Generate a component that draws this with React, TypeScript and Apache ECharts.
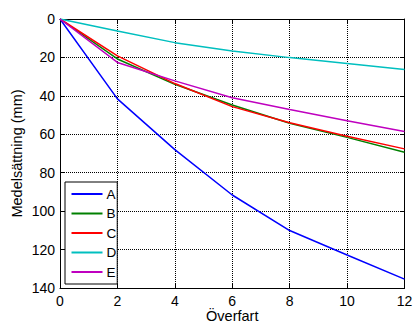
import React, { useEffect, useRef } from "react";
import * as echarts from "echarts";

const xValues = [0, 2, 4, 6, 8, 10, 12];
const seriesNames = ["A", "B", "C", "D", "E"];
const seriesA = [0, 41.6, 68, 91.6, 110.1, 122.8, 135.4];
const seriesB = [0, 20.8, 34, 44.8, 54.3, 61.6, 69.4];
const seriesC = [0, 19.2, 33.6, 45.6, 54, 61, 67.6];
const seriesD = [0, 6.3, 12.3, 16.6, 20.1, 23.2, 26.3];
const seriesE = [0, 22.6, 32.2, 41, 47.1, 53, 58.5];
const seriesColors = ["#0000ff", "#008000", "#ff0000", "#00bfbf", "#bf00bf"];
const xTicks = [0, 2, 4, 6, 8, 10, 12];
const yTicks = [0, 20, 40, 60, 80, 100, 120, 140];

export default function App() {
  const ref = useRef<HTMLDivElement>(null);
  useEffect(() => {
    if (!ref.current) return;
    const chart = echarts.init(ref.current, null, { renderer: "svg" });
    const font = "Liberation Sans, Arial, Helvetica, sans-serif";
    const all = [seriesA, seriesB, seriesC, seriesD, seriesE];
    const gridStyle = { type: [1, 1] as number[], color: "#000", width: 1 };
    const common = {
      axisLine: { show: true, onZero: false, lineStyle: { color: "#000", width: 1 } },
      axisTick: { show: true, inside: true, length: 4, lineStyle: { color: "#000" } },
    };
    chart.setOption({
      animation: false,
      backgroundColor: "#fff",
      grid: { left: 60, right: 9.5, top: 19, bottom: 36, containLabel: false, outerBoundsMode: "none" },
      legend: {
        orient: "vertical",
        left: 65,
        top: 182,
        data: seriesNames,
        icon: "rect",
        itemWidth: 31,
        itemHeight: 2,
        itemGap: 5.5,
        padding: [5, 1, 5, 6.5],
        borderColor: "#000",
        borderWidth: 1,
        backgroundColor: "#fff",
        textStyle: { fontFamily: font, fontSize: 13.5, color: "#000", lineHeight: 14, padding: [0, 0, 0, -1] },
      },
      xAxis: [
        {
          type: "value",
          min: 0,
          max: 12,
          interval: 2,
          position: "bottom",
          name: "Överfart",
          nameLocation: "middle",
          nameGap: 20,
          nameMoveOverlap: false,
          nameTextStyle: { fontFamily: font, fontSize: 14.5, color: "#000", verticalAlign: "top" },
          ...common,
          axisLabel: {
            fontFamily: font,
            fontSize: 14,
            color: "#000",
            margin: 6,
            formatter: (v: number) => (xTicks.includes(v) ? String(v) : ""),
          },
          splitLine: { show: true, lineStyle: gridStyle },
        },
        {
          type: "value",
          min: 0,
          max: 12,
          interval: 2,
          position: "top",
          ...common,
          axisLabel: { show: false },
          splitLine: { show: false },
        },
      ],
      yAxis: [
        {
          type: "value",
          min: 0,
          max: 140,
          interval: 20,
          inverse: true,
          position: "left",
          name: "Medelsättning (mm)",
          nameLocation: "middle",
          nameGap: 36,
          nameMoveOverlap: false,
          nameTextStyle: { fontFamily: font, fontSize: 14.5, color: "#000" },
          ...common,
          axisLabel: {
            fontFamily: font,
            fontSize: 14,
            color: "#000",
            margin: 5,
            formatter: (v: number) => (yTicks.includes(v) ? String(v) : ""),
          },
          splitLine: { show: true, lineStyle: gridStyle },
        },
        {
          type: "value",
          min: 0,
          max: 140,
          interval: 20,
          inverse: true,
          position: "right",
          ...common,
          axisLabel: { show: false },
          splitLine: { show: false },
        },
      ],
      series: seriesNames.map((name, i) => ({
        name,
        type: "line",
        data: xValues.map((x, j) => [x, all[i][j]]),
        symbol: "none",
        lineStyle: { color: seriesColors[i], width: 1.5 },
        itemStyle: { color: seriesColors[i] },
        z: 3,
      })),
    });
    return () => chart.dispose();
  }, []);
  return <div ref={ref} style={{ width: 414, height: 324, position: "absolute", left: 0, top: 0 }} />;
}
